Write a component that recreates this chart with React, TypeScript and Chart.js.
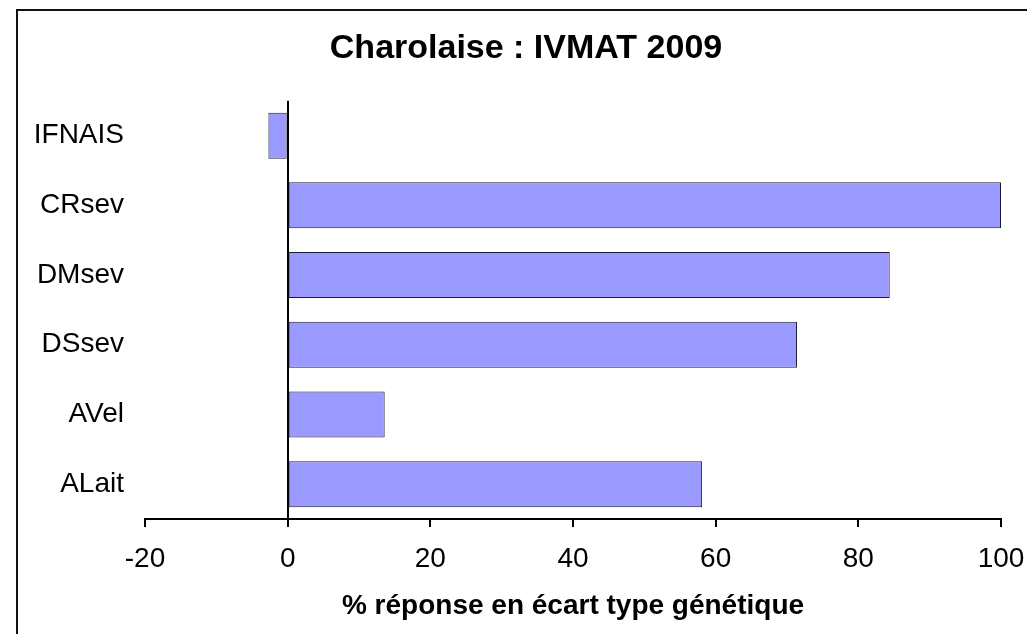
import React, { useEffect, useRef } from "react";
import { Chart, registerables } from "chart.js";

Chart.register(...registerables);

const categories = ["IFNAIS", "CRsev", "DMsev", "DSsev", "AVel", "ALait"];
const values = [-2.7, 100, 84.4, 71.4, 13.6, 58.1];
const titleText = "Charolaise : IVMAT 2009";
const xAxisTitle = "% réponse en écart type génétique";
const xMin = -20;
const xMax = 100;
const xStep = 20;

const FONT = "'Liberation Sans', Arial, sans-serif";

export default function App() {
  const ref = useRef<HTMLCanvasElement | null>(null);

  useEffect(() => {
    if (!ref.current) return;
    const chart = new Chart(ref.current, {
      type: "bar",
      data: {
        labels: categories,
        datasets: [
          {
            data: values,
            backgroundColor: "#9999FF",
            borderColor: "#1a1a33",
            borderWidth: 1,
            borderSkipped: false,
            barPercentage: 0.66,
            categoryPercentage: 1,
          },
        ],
      },
      options: {
        indexAxis: "y",
        responsive: false,
        animation: false,
        devicePixelRatio: 1,
        layout: { padding: 0 },
        plugins: {
          legend: { display: false },
          tooltip: { enabled: false },
          title: {
            display: true,
            text: titleText,
            color: "#000",
            font: { family: FONT, size: 34, weight: "bold" },
            padding: { top: 28, bottom: 32 },
          },
        },
        scales: {
          x: {
            type: "linear",
            min: xMin,
            max: xMax,
            z: 1,
            ticks: {
              stepSize: xStep,
              color: "#000",
              font: { family: FONT, size: 28 },
              padding: 15,
              maxRotation: 0,
            },
            grid: {
              drawOnChartArea: true,
              drawTicks: true,
              tickLength: 8,
              tickColor: "#000",
              tickWidth: 2,
              lineWidth: 2,
              color: (ctx: any) =>
                ctx.tick && ctx.tick.value === 0 ? "#000" : "rgba(0,0,0,0)",
            },
            border: { display: true, color: "#000", width: 2 },
            title: {
              display: true,
              text: xAxisTitle,
              color: "#000",
              font: { family: FONT, size: 28, weight: "bold" },
              padding: { top: 0, bottom: 11 },
            },
            afterFit: (scale: any) => {
              scale.height = 115;
            },
          },
          y: {
            type: "category",
            grid: { display: false, drawTicks: false },
            border: { display: false },
            ticks: {
              color: "#000",
              font: { family: FONT, size: 28 },
              padding: 21,
            },
            afterFit: (scale: any) => {
              scale.width = 145;
            },
          },
          yRight: {
            type: "linear",
            position: "right",
            display: true,
            grid: { display: false, drawTicks: false },
            border: { display: false },
            ticks: { display: false },
            afterFit: (scale: any) => {
              scale.width = 51;
            },
          },
        },
      },
    });
    return () => chart.destroy();
  }, []);

  return (
    <div
      style={{
        position: "fixed",
        left: 0,
        top: 0,
        width: 1027,
        height: 634,
        overflow: "hidden",
        background: "#fff",
      }}
    >
      <div
        style={{
          position: "absolute",
          left: 16,
          top: 9,
          width: 1100,
          height: 700,
          border: "2px solid #111",
          boxSizing: "border-box",
        }}
      />
      <canvas
        ref={ref}
        width={1052}
        height={634}
        style={{ position: "absolute", left: 0, top: 0 }}
      />
    </div>
  );
}
